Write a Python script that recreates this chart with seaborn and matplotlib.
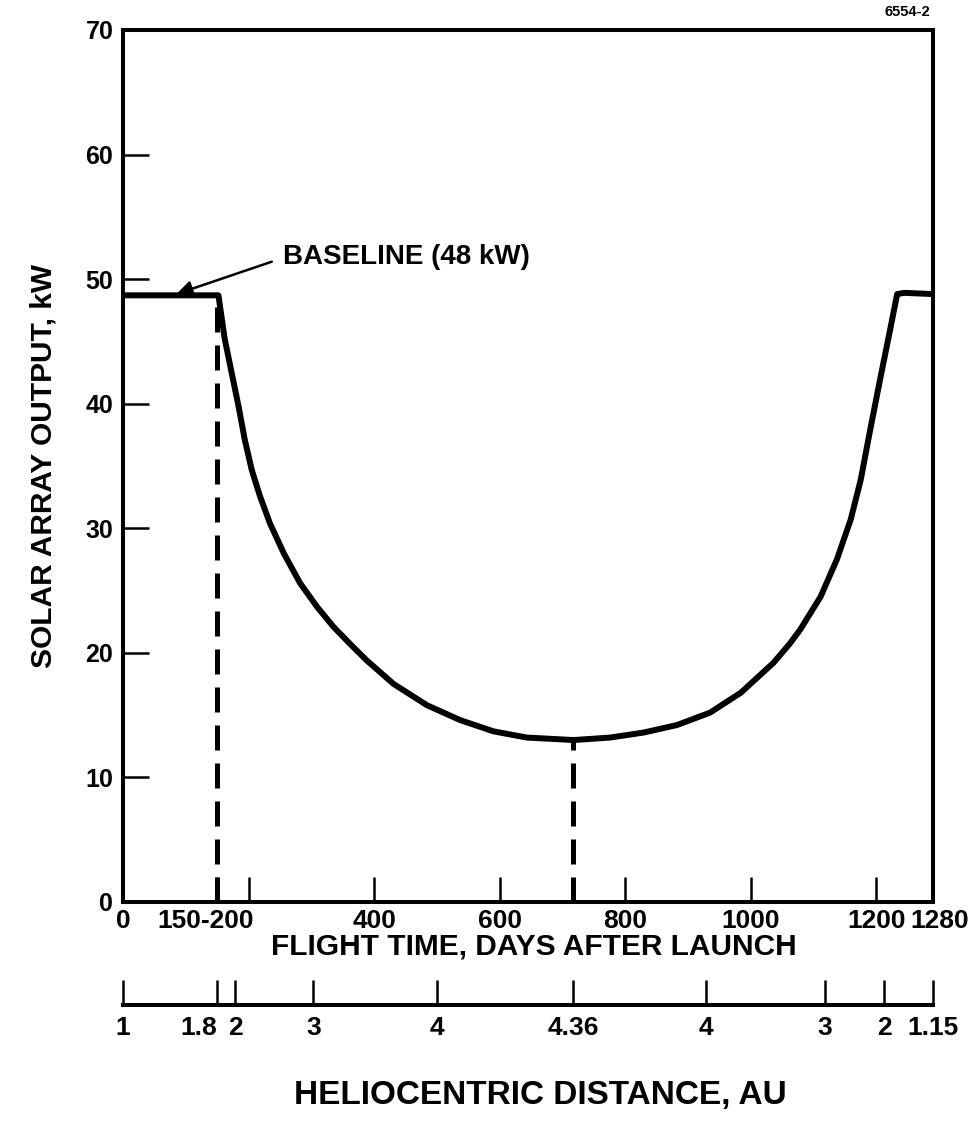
import seaborn as sns
import matplotlib.pyplot as plt
import pandas as pd

# Solar array output vs flight time
days = [0, 152, 162, 173, 184, 194, 205, 218, 234, 256, 282, 309, 335, 362, 388,
        431, 484, 537, 590, 643, 718, 776, 829, 882, 935, 984, 1036, 1063, 1079, 1111,
        1137, 1159, 1175, 1190, 1206, 1222, 1233, 1244, 1290]
power_kw = [48.7, 48.7, 45.2, 42.5, 39.8, 37.1, 34.7, 32.6, 30.4, 28.0, 25.6, 23.7, 22.1, 20.7, 19.4,
            17.5, 15.8, 14.6, 13.7, 13.2, 13.0, 13.2, 13.6, 14.2, 15.2, 16.8, 19.2, 20.8, 21.9, 24.5,
            27.5, 30.7, 33.9, 37.9, 42.0, 46.0, 48.8, 48.9, 48.8]

# dashed markers (day, power at curve)
marker_days = [150, 717]
marker_power = [48.7, 13.0]

# time axis
time_ticks = [0, 150, 200, 400, 600, 800, 1000, 1200]
time_labels = ['0', '', '', '400', '600', '800', '1000', '1200']

# heliocentric distance axis (position in days -> AU label)
au_days = [0, 150, 179, 303, 500, 717, 929, 1118, 1212, 1290]
au_labels = ['1', '1.8', '2', '3', '4', '4.36', '4', '3', '2', '1.15']

df = pd.DataFrame({'days': days, 'power': power_kw})

sns.set_style('white')
plt.rcParams['font.family'] = ['Liberation Sans', 'DejaVu Sans']
plt.rcParams['text.color'] = 'black'
plt.rcParams['axes.labelcolor'] = 'black'
plt.rcParams['xtick.color'] = 'black'
plt.rcParams['ytick.color'] = 'black'

fig = plt.figure(figsize=(9.8, 11.36), dpi=100)
ax = fig.add_axes([0.1255, 0.206, 0.8265, 0.7676])

sns.lineplot(data=df, x='days', y='power', color='black', linewidth=4.3, ax=ax)
for d, p in zip(marker_days, marker_power):
    ax.plot([d, d], [0, p], color='black', linewidth=3.6, linestyle=(0, (5, 2.6)))

ax.set_xlim(0, 1290)
ax.set_ylim(0, 70)
for s in ax.spines.values():
    s.set_linewidth(2.9)
    s.set_color('black')

ax.set_xticks(time_ticks)
ax.set_xticklabels(time_labels, fontsize=19, fontweight='bold')
ax.set_yticks(range(0, 71, 10))
ax.set_yticklabels([str(v) for v in range(0, 71, 10)], fontsize=18, fontweight='bold')
ax.tick_params(axis='x', bottom=True, direction='in', length=18, width=1.8, pad=5)
ax.tick_params(axis='y', left=True, direction='in', length=19, width=1.8, pad=7)
for lab, xpos in [('150-200', 132), ('1280', 1300)]:
    ax.annotate(lab, xy=(xpos, 0), xycoords=('data', 'axes fraction'), xytext=(0, -5),
                textcoords='offset points', ha='center', va='top', fontsize=19, fontweight='bold')

ax.set_xlabel('FLIGHT TIME, DAYS AFTER LAUNCH', fontsize=21.5, fontweight='bold', labelpad=0)
ax.xaxis.label.set_x(0.507)
ax.set_ylabel('SOLAR ARRAY OUTPUT, kW', fontsize=21.5, fontweight='bold', labelpad=20)

ax.annotate('', xy=(85, 48.8), xytext=(237, 51.4),
            arrowprops=dict(arrowstyle='-|>', color='black', lw=1.8, mutation_scale=24,
                            shrinkA=0, shrinkB=0))
ax.text(255, 51.8, 'BASELINE (48 kW)', ha='left', va='center', fontsize=20, fontweight='bold')

# heliocentric distance scale
ax2 = fig.add_axes([0.1255, 1 - 1005 / 1136, 0.8265, 20 / 1136])
ax2.set_xlim(0, 1290)
ax2.set_ylim(0, 1)
ax2.set_yticks([])
for side in ['left', 'right', 'top']:
    ax2.spines[side].set_visible(False)
ax2.spines['bottom'].set_linewidth(2.9)
ax2.spines['bottom'].set_color('black')
ax2.set_xticks(au_days)
ax2.set_xticklabels(au_labels, fontsize=19, fontweight='bold')
ax2.get_xticklabels()[1].set_ha('right')
ax2.tick_params(axis='x', bottom=True, direction='in', length=18, width=1.8, pad=8)
ax2.set_xlabel('HELIOCENTRIC DISTANCE, AU', fontsize=24, fontweight='bold', labelpad=29)
ax2.xaxis.label.set_x(0.515)

fig.text(930 / 980, 1 - 12 / 1136, '6554-2', ha='right', va='center', fontsize=10.5, fontweight='bold')

fig.savefig('out.png', dpi=100)
